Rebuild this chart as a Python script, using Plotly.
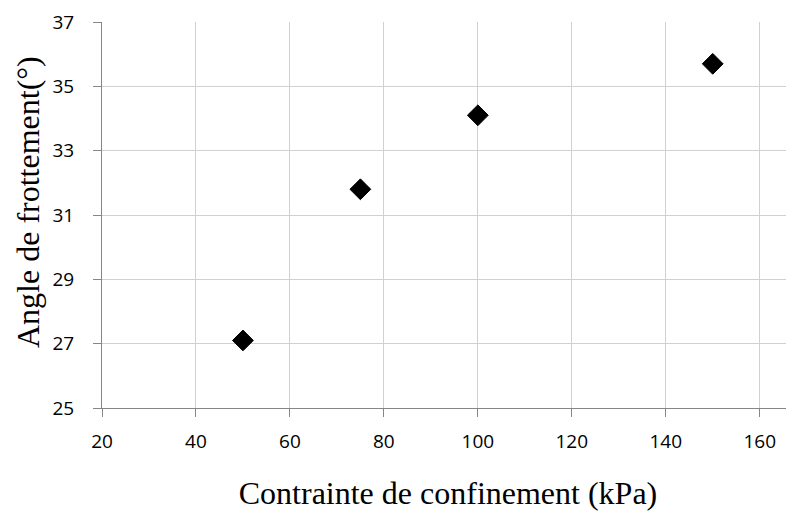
import plotly.graph_objects as go

confinement_kpa = [50, 75, 100, 150]
friction_angle_deg = [27.1, 31.8, 34.1, 35.7]

x_ticks = [20, 40, 60, 80, 100, 120, 140, 160]
y_ticks = [25, 27, 29, 31, 33, 35, 37]

fig = go.Figure()
fig.add_trace(go.Scatter(
    x=confinement_kpa, y=friction_angle_deg, mode="markers",
    marker=dict(symbol="diamond", size=16, color="black",
                line=dict(color="black", width=1)),
    showlegend=False, cliponaxis=False,
))

tick_font = dict(family="Open Sans, Noto Sans, sans-serif", size=19, color="black")
title_font = dict(family="Liberation Serif, Times New Roman, serif", size=32, color="black")

# page body has an 8px default margin; figure sized to fit the window
fig.update_layout(
    width=786, height=503,
    margin=dict(l=94, r=0, t=14, b=103, autoexpand=False),
    paper_bgcolor="white", plot_bgcolor="white",
    xaxis=dict(
        range=[20, 167.3], tickvals=x_ticks, ticktext=[str(v) for v in x_ticks],
        showgrid=True, gridcolor="#d0d0d0", gridwidth=1,
        showline=True, linecolor="#868686", linewidth=1,
        ticks="outside", ticklen=8, tickcolor="#868686",
        tickfont=tick_font, zeroline=False, automargin=False, ticklabelstandoff=8,
        title=dict(text="Contrainte de confinement (kPa)", font=title_font, standoff=30),
    ),
    yaxis=dict(
        range=[25, 37], tickvals=y_ticks, ticktext=[str(v) for v in y_ticks],
        showgrid=True, gridcolor="#d0d0d0", gridwidth=1,
        showline=True, linecolor="#868686", linewidth=1,
        ticks="outside", ticklen=8, tickcolor="#868686",
        tickfont=tick_font, zeroline=False, ticklabelstandoff=15, automargin=False,
    ),
    annotations=[dict(
        text="Angle de frottement(°)", font=title_font, textangle=-90,
        xref="paper", yref="paper", x=-0.1069, y=0.5337,
        xanchor="center", yanchor="middle", showarrow=False,
    )],
)

fig.write_html("out.html")
